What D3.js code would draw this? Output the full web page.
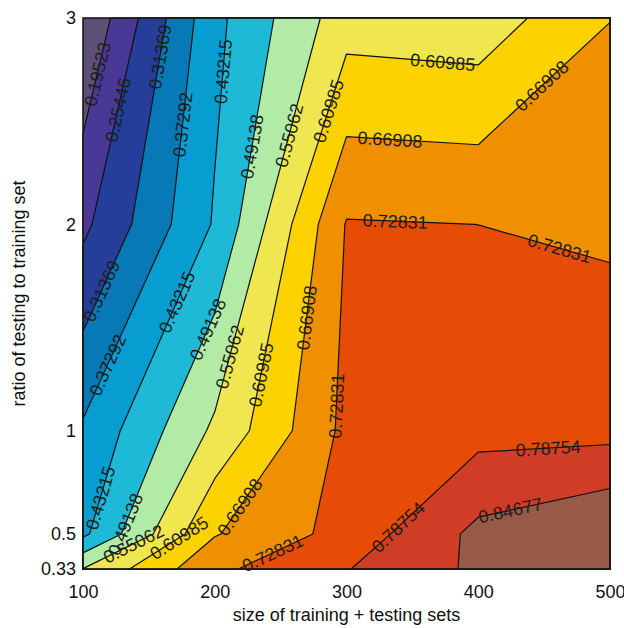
<!DOCTYPE html>
<html>
<head>
<meta charset="utf-8">
<script src="https://cdn.jsdelivr.net/npm/d3@7"></script>
<style>
    body { margin: 0; background: #fff; }
    text { font-family: "Liberation Sans", Arial, Helvetica, sans-serif; }
</style>
</head>
<body>
<div id="chart"></div>
<script>
// measured grid: one row per ratio, one value per set size
sizes = [100, 200, 300, 400, 500];
ratios = [0.33, 0.5, 1, 2, 3];

row033 = [0.552, 0.716, 0.785, 0.858, 0.906];
row05 = [0.420, 0.665, 0.750, 0.862, 0.908];
row1 = [0.381, 0.562, 0.744, 0.768, 0.769];
row2 = [0.241, 0.438, 0.732, 0.7282, 0.719];
row3 = [0.137, 0.416, 0.584, 0.575, 0.668];

levels = [0.19523, 0.25446, 0.31369, 0.37292, 0.43215, 0.49138,
    0.55062, 0.60985, 0.66908, 0.72831, 0.78754, 0.84677];

// one colour per band, lowest band first
bandColors = ["#5c5079", "#4a3896", "#243e9a", "#0879b7", "#079dd1", "#1eb9d6",
    "#b2eba5", "#f0e64f", "#fcd200", "#f09000", "#e64c06", "#cf3d26", "#975a48"];

xTicks = [100, 200, 300, 400, 500];
yTicks = [0.33, 0.5, 1, 2, 3];

// contour labels: level and a hint (size, ratio) of where it sits on the line
labelLevels = [0.19523, 0.25446, 0.31369, 0.37292, 0.43215, 0.49138, 0.55062, 0.60985,
    0.60985, 0.66908, 0.66908, 0.72831, 0.72831,
    0.31369, 0.37292, 0.43215, 0.49138, 0.55062, 0.60985, 0.66908, 0.72831,
    0.43215, 0.49138, 0.55062, 0.60985, 0.66908, 0.72831, 0.78754, 0.78754, 0.84677];
labelSizes = [116, 123, 151, 180, 207, 234, 257, 281,
    373, 447, 333, 337, 462,
    113, 125, 151, 195, 210, 236, 267, 293,
    115, 127, 137, 171, 219, 243, 341, 453, 424];
labelRatios = [2.72, 2.56, 2.82, 2.48, 2.74, 2.37, 2.43, 2.56,
    2.78, 2.68, 2.41, 2.01, 1.89,
    1.68, 1.30, 1.68, 1.49, 1.36, 1.27, 1.55, 1.12,
    0.67, 0.56, 0.47, 0.50, 0.63, 0.42, 0.52, 0.915, 0.625];

width = 624;
height = 628;
plotLeft = 83;
plotRight = 610;
plotTop = 18;
plotBottom = 569;

xScale = d3.scaleLinear().domain([100, 500]).range([plotLeft, plotRight]);
yScale = d3.scaleLinear().domain([0.33, 3]).range([plotBottom, plotTop]);

svg = d3.select("#chart").append("svg")
    .attr("width", width)
    .attr("height", height);

/* contours on the index grid */
values = [].concat(row033, row05, row1, row2, row3);
nx = sizes.length;
ny = ratios.length;

contours = d3.contours()
    .size([nx, ny])
    .thresholds(levels)(values);

// grid coordinate (cell centres at i + 0.5) -> data value
function along(arr, g) {
    g = Math.max(0, Math.min(arr.length - 1, g - 0.5));
    var i = Math.min(Math.floor(g), arr.length - 2);
    return arr[i] + (arr[i + 1] - arr[i]) * (g - i);
}

function toPx(p) {
    return [xScale(along(sizes, p[0])), yScale(along(ratios, p[1]))];
}

proj = d3.geoTransform({
    point: function (x, y) {
        var p = toPx([x, y]);
        this.stream.point(p[0], p[1]);
    }
});
path = d3.geoPath(proj);

/* filled bands */
svg.append("rect")
    .attr("x", plotLeft)
    .attr("y", plotTop)
    .attr("width", plotRight - plotLeft)
    .attr("height", plotBottom - plotTop)
    .attr("fill", bandColors[0]);

svg.append("g")
    .selectAll("path")
    .data(contours).enter()
    .append("path")
    .attr("d", path)
    .attr("fill", (d, i) => bandColors[i + 1])
    .attr("stroke", "#111")
    .attr("stroke-width", 1.2)
    .attr("stroke-linejoin", "round");

/* labels, snapped to the nearest point of their line */
function onFrame(a, b) {
    var e = 0.5;
    return (Math.abs(a[0] - plotLeft) < e && Math.abs(b[0] - plotLeft) < e) ||
        (Math.abs(a[0] - plotRight) < e && Math.abs(b[0] - plotRight) < e) ||
        (Math.abs(a[1] - plotTop) < e && Math.abs(b[1] - plotTop) < e) ||
        (Math.abs(a[1] - plotBottom) < e && Math.abs(b[1] - plotBottom) < e);
}

labelGroup = svg.append("g");

labelLevels.forEach(function (lv, k) {
    var c = contours.find(d => Math.abs(d.value - lv) < 1e-9);
    var hx = xScale(labelSizes[k]), hy = yScale(labelRatios[k]);
    var best = null, bestD = Infinity;

    c.coordinates.forEach(function (poly) {
        poly.forEach(function (ring) {
            var pts = ring.map(toPx);
            for (var i = 0; i < pts.length - 1; i++) {
                var a = pts[i], b = pts[i + 1];
                if (onFrame(a, b)) continue;
                var dx = b[0] - a[0], dy = b[1] - a[1], len2 = dx * dx + dy * dy;
                if (len2 < 1e-6) continue;
                var t = ((hx - a[0]) * dx + (hy - a[1]) * dy) / len2;
                t = Math.max(0, Math.min(1, t));
                var px = a[0] + t * dx, py = a[1] + t * dy;
                var dd = (px - hx) * (px - hx) + (py - hy) * (py - hy);
                if (dd < bestD) {
                    bestD = dd;
                    best = { x: px, y: py, ang: Math.atan2(dy, dx) * 180 / Math.PI };
                }
            }
        });
    });

    if (!best) return;
    var ang = best.ang;
    while (ang >= 90) ang -= 180;
    while (ang < -90) ang += 180;

    labelGroup.append("text")
        .attr("transform", `translate(${best.x},${best.y}) rotate(${ang})`)
        .attr("text-anchor", "middle")
        .attr("dy", "0.36em")
        .attr("font-size", "18px")
        .attr("fill", "#1e1e1e")
        .text(lv.toFixed(5));
});

/* frame and axes */
svg.append("rect")
    .attr("x", plotLeft)
    .attr("y", plotTop)
    .attr("width", plotRight - plotLeft)
    .attr("height", plotBottom - plotTop)
    .attr("fill", "none")
    .attr("stroke", "#1a1a1a")
    .attr("stroke-width", 1.6);

xAxis = d3.axisBottom(xScale).tickValues(xTicks).tickSize(0).tickPadding(16)
    .tickFormat(d => String(d));
yAxis = d3.axisLeft(yScale).tickValues(yTicks).tickSize(0).tickPadding(7)
    .tickFormat(d => String(d));

gx = svg.append("g")
    .attr("transform", `translate(0, ${plotBottom})`)
    .call(xAxis);
gy = svg.append("g")
    .attr("transform", `translate(${plotLeft}, 0)`)
    .call(yAxis);

[gx, gy].forEach(function (g) {
    g.select(".domain").remove();
    g.selectAll("text")
        .attr("font-size", "18px")
        .attr("font-family", "'Liberation Sans', Arial, sans-serif")
        .attr("fill", "#111");
});

svg.append("text")
    .attr("x", (plotLeft + plotRight) / 2)
    .attr("y", 621)
    .attr("text-anchor", "middle")
    .attr("font-size", "18px")
    .attr("fill", "#111")
    .text("size of training + testing sets");

svg.append("text")
    .attr("transform", `translate(25, ${(plotTop + plotBottom) / 2}) rotate(-90)`)
    .attr("text-anchor", "middle")
    .attr("font-size", "18px")
    .attr("fill", "#111")
    .text("ratio of testing to training set");
</script>
</body>
</html>
